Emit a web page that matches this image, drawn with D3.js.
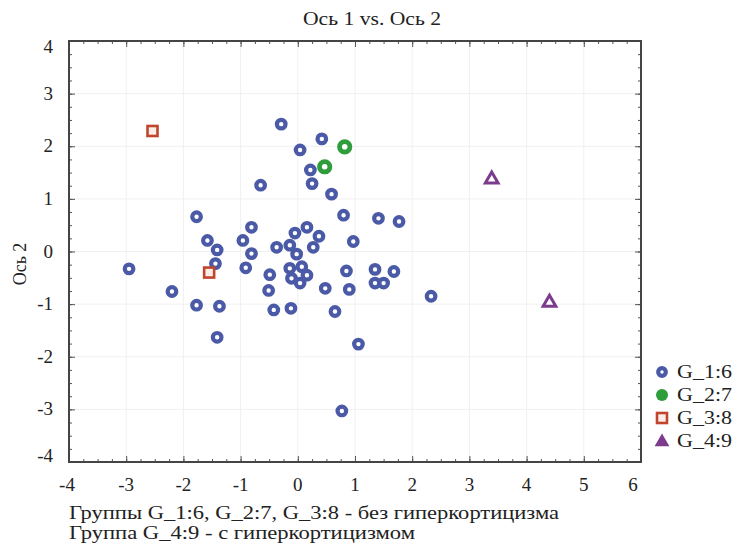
<!DOCTYPE html>
<html><head><meta charset="utf-8">
<script src="https://cdn.jsdelivr.net/npm/d3@7"></script>
<style>body{margin:0;background:#fff}</style>
</head><body><svg id="c" width="738" height="550"></svg>
<script>
// ---- data ----
const titleText = "Ось 1 vs. Ось 2";
const yAxisLabel = "Ось 2";
const xTicks = [-4,-3,-2,-1,0,1,2,3,4,5,6];
const yTicks = [-4,-3,-2,-1,0,1,2,3,4];
const groupNames = ["G_1:6","G_2:7","G_3:8","G_4:9"];
const g1X = [-0.29,0.42,0.04,0.22,0.25,-0.65,0.59,0.80,1.41,1.77,-1.77,-0.81,0.16,-0.05,0.37,-1.58,-0.96,0.97,-0.37,-0.14,0.27,-1.41,-0.81,-0.02,-1.44,-0.91,-0.14,0.07,-0.11,0.16,0.04,-0.49,0.85,1.35,1.68,1.35,1.50,0.48,0.90,-0.51,-1.77,-1.37,-0.42,-0.12,0.65,-1.41,1.06,2.33,-2.95,0.77,-2.20];
const g1Y = [2.42,2.14,1.93,1.55,1.29,1.26,1.09,0.69,0.63,0.57,0.66,0.46,0.46,0.35,0.29,0.21,0.21,0.19,0.08,0.12,0.08,0.03,-0.04,-0.05,-0.23,-0.31,-0.32,-0.29,-0.51,-0.45,-0.60,-0.44,-0.37,-0.34,-0.38,-0.60,-0.60,-0.70,-0.72,-0.74,-1.02,-1.04,-1.11,-1.08,-1.14,-1.63,-1.76,-0.85,-0.33,-3.03,-0.76];
const g2X = [0.82,0.47];
const g2Y = [1.99,1.61];
const g3X = [-2.54,-1.55];
const g3Y = [2.29,-0.40];
const g4X = [3.39,4.40];
const g4Y = [1.37,-0.97];
const noteLines = ["Группы G_1:6, G_2:7, G_3:8 - без гиперкортицизма","Группа G_4:9 - с гиперкортицизмом"];

// ---- layout ----
const svg = d3.select("#c");
const L=69, R=641, T=41, B=462;
const x = d3.scaleLinear().domain([-4,6]).range([L,R]);
const y = d3.scaleLinear().domain([-4,4]).range([B,T]);
const font = "'Liberation Serif','Times New Roman',serif";
const cBlue="#4a5aa6", cGreen="#2f9d3c", cRed="#c0452c", cPurple="#7c3b8c";

// gridlines
const grid = svg.append("g").attr("stroke","#f0f0f0").attr("stroke-width",1);
xTicks.slice(1,-1).forEach(v=>grid.append("line").attr("x1",x(v)).attr("x2",x(v)).attr("y1",T).attr("y2",B));
yTicks.slice(1,-1).forEach(v=>grid.append("line").attr("y1",y(v)).attr("y2",y(v)).attr("x1",L).attr("x2",R));

// axes with inward ticks on all four sides
function axisGroup(axis, tx, ty){
  const g = svg.append("g").attr("transform",`translate(${tx},${ty})`).call(axis);
  g.select(".domain").remove();
  g.selectAll("line").attr("stroke","#555");
  g.selectAll("text").remove();
  return g;
}
const xMinor = d3.range(-4,6.001,0.25);
const yMinor = d3.range(-4,4.001,0.25);
axisGroup(d3.axisBottom(x).tickValues(xMinor).tickSize(-3).tickFormat(""),0,B);
axisGroup(d3.axisBottom(x).tickValues(xTicks).tickSize(-6).tickFormat(""),0,B);
axisGroup(d3.axisTop(x).tickValues(xMinor).tickSize(-3).tickFormat(""),0,T);
axisGroup(d3.axisTop(x).tickValues(xTicks).tickSize(-6).tickFormat(""),0,T);
axisGroup(d3.axisLeft(y).tickValues(yMinor).tickSize(-3).tickFormat(""),L,0);
axisGroup(d3.axisLeft(y).tickValues(yTicks).tickSize(-6).tickFormat(""),L,0);
axisGroup(d3.axisRight(y).tickValues(yMinor).tickSize(-3).tickFormat(""),R,0);
axisGroup(d3.axisRight(y).tickValues(yTicks).tickSize(-6).tickFormat(""),R,0);

svg.append("rect").attr("x",L).attr("y",T).attr("width",R-L).attr("height",B-T)
  .attr("fill","none").attr("stroke","#444").attr("stroke-width",2);

// tick labels
svg.append("g").selectAll("text").data(xTicks).join("text")
  .attr("x",(d,i)=>x(d) + (i===xTicks.length-1? -8 : (i===0?-2:0)))
  .attr("y",B+29).attr("text-anchor","middle")
  .attr("font-family",font).attr("font-size",19).attr("fill","#222").text(d=>d);
svg.append("g").selectAll("text").data(yTicks).join("text")
  .attr("x",53)
  .attr("y",(d,i)=>y(d)+6 + (d===4?6:(d===-4?-6:0)))
  .attr("text-anchor","end")
  .attr("font-family",font).attr("font-size",19).attr("fill","#222").text(d=>d);

// titles
svg.append("text").attr("x",372).attr("y",25).attr("text-anchor","middle")
  .attr("font-family",font).attr("font-size",18).attr("fill","#222")
  .attr("textLength",138).attr("lengthAdjust","spacingAndGlyphs").text(titleText);
svg.append("text").attr("transform","translate(26,264) rotate(-90)").attr("text-anchor","middle")
  .attr("font-family",font).attr("font-size",18).attr("fill","#222").text(yAxisLabel);

// points
const pts = svg.append("g");
pts.selectAll(".g1").data(d3.zip(g1X,g1Y)).join("circle").attr("class","g1")
  .attr("cx",d=>x(d[0])).attr("cy",d=>y(d[1])).attr("r",4.3)
  .attr("fill","#fff").attr("stroke",cBlue).attr("stroke-width",4.2);
pts.selectAll(".g2").data(d3.zip(g2X,g2Y)).join("circle").attr("class","g2")
  .attr("cx",d=>x(d[0])).attr("cy",d=>y(d[1])).attr("r",5.2)
  .attr("fill","#fff").attr("stroke",cGreen).attr("stroke-width",4.8);
pts.selectAll(".g3").data(d3.zip(g3X,g3Y)).join("rect").attr("class","g3")
  .attr("x",d=>x(d[0])-5).attr("y",d=>y(d[1])-5).attr("width",10).attr("height",10)
  .attr("fill","#fbeee8").attr("stroke",cRed).attr("stroke-width",2.6);
const tri = d3.symbol().type(d3.symbolTriangle).size(70);
pts.selectAll(".g4").data(d3.zip(g4X,g4Y)).join("path").attr("class","g4")
  .attr("transform",d=>`translate(${x(d[0])},${y(d[1])})`).attr("d",tri)
  .attr("fill","#fff").attr("stroke",cPurple).attr("stroke-width",3);

// legend
const leg = svg.append("g");
const lx=662, ly0=372, ldy=23;
groupNames.forEach((name,i)=>{
  const cy = ly0 + i*ldy;
  if(i===0) leg.append("circle").attr("cx",lx).attr("cy",cy).attr("r",3.8).attr("fill","#fff").attr("stroke",cBlue).attr("stroke-width",4.2);
  if(i===1) leg.append("circle").attr("cx",lx).attr("cy",cy).attr("r",6).attr("fill",cGreen);
  if(i===2) leg.append("rect").attr("x",lx-5).attr("y",cy-5).attr("width",10).attr("height",10).attr("fill","#fbeee8").attr("stroke",cRed).attr("stroke-width",2.6);
  if(i===3) leg.append("path").attr("transform",`translate(${lx},${cy+1})`).attr("d",d3.symbol().type(d3.symbolTriangle).size(95)).attr("fill",cPurple);
  leg.append("text").attr("x",lx+15).attr("y",cy+6).attr("font-family",font).attr("font-size",19).attr("fill","#222")
    .attr("textLength",55).attr("lengthAdjust","spacingAndGlyphs").text(name);
});

// notes
const noteWidths = [490,346];
noteLines.forEach((t,i)=>{
  svg.append("text").attr("x",69).attr("y",519+i*20).attr("font-family",font).attr("font-size",18).attr("fill","#222")
    .attr("textLength",noteWidths[i]).attr("lengthAdjust","spacingAndGlyphs").text(t);
});
</script>
</body></html>
